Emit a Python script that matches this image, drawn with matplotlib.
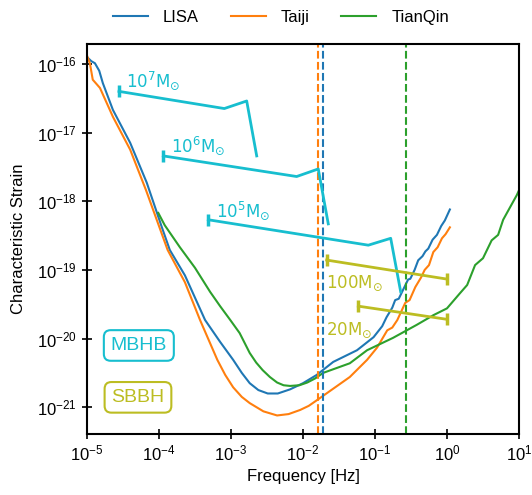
import matplotlib
matplotlib.use('Agg')
import matplotlib.pyplot as plt
import numpy as np

plt.rcParams['font.family'] = ['Liberation Sans', 'DejaVu Sans']

# --- sensitivity curves as (log10 f, log10 h_c) ---
lisa_logf = [-5.00, -4.94, -4.89, -4.83, -4.78, -4.64, -4.40, -4.17, -3.96, -3.85, -3.64, -3.36,
             -3.15, -2.97, -2.85, -2.74, -2.62, -2.49, -2.35, -2.18, -2.00, -1.81, -1.58, -1.25,
             -1.02, -0.90, -0.84, -0.76, -0.72, -0.67, -0.61, -0.54, -0.51, -0.45, -0.40, -0.34,
             -0.30, -0.26, -0.20, -0.14, -0.08, -0.03, 0.04]
lisa_logh = [-15.90, -15.96, -15.99, -16.10, -16.28, -16.67, -17.15, -17.73, -18.38, -18.71, -19.08, -19.73,
             -20.05, -20.31, -20.50, -20.65, -20.75, -20.80, -20.80, -20.74, -20.65, -20.53, -20.34, -20.17,
             -19.98, -19.82, -19.69, -19.55, -19.44, -19.42, -19.29, -19.14, -19.13, -19.00, -18.86, -18.80,
             -18.73, -18.69, -18.56, -18.49, -18.36, -18.28, -18.12]

taiji_logf = [-5.00, -4.96, -4.92, -4.82, -4.64, -4.40, -4.18, -3.88, -3.64, -3.43,
              -3.19, -3.08, -2.97, -2.85, -2.74, -2.55, -2.36, -2.20, -2.04, -1.92, -1.81, -1.58,
              -1.35, -1.11, -0.97, -0.83, -0.76, -0.69, -0.58, -0.52, -0.44, -0.36, -0.31, -0.25,
              -0.19, -0.13, -0.07, -0.02, 0.04]
taiji_logh = [-15.88, -15.99, -16.23, -16.35, -16.77, -17.25, -17.84, -18.71, -19.18, -19.73,
              -20.31, -20.53, -20.71, -20.85, -20.94, -21.06, -21.12, -21.10, -21.04, -20.98, -20.90, -20.73,
              -20.56, -20.31, -20.13, -19.88, -19.84, -19.73, -19.48, -19.44, -19.25, -19.11, -19.00, -18.93,
              -18.74, -18.67, -18.54, -18.48, -18.38]

tianqin_logf = [-4.01, -3.92, -3.71, -3.50, -3.29, -3.15, -3.01, -2.88, -2.74, -2.65, -2.56, -2.46,
                -2.36, -2.27, -2.18, -2.05, -1.94, -1.83, -1.72, -1.35, -1.11, -0.75, -0.42, -0.19,
                0.00, 0.18, 0.28, 0.39, 0.50, 0.62, 0.71, 0.78, 0.88, 0.97, 1.00]
tianqin_logh = [-18.17, -18.35, -18.67, -18.97, -19.32, -19.53, -19.73, -19.92, -20.21, -20.35, -20.46, -20.56,
                -20.64, -20.68, -20.69, -20.68, -20.64, -20.58, -20.50, -20.36, -20.17, -19.99, -19.80, -19.66,
                -19.56, -19.34, -19.22, -18.93, -18.83, -18.57, -18.49, -18.27, -18.08, -17.91, -17.84]

# vertical marker frequencies [Hz]
f_lisa_line = 0.019
f_taiji_line = 0.016
f_tianqin_line = 0.27

# --- MBHB tracks (log10 f, log10 h_c) ---
mbhb_labels = [r'$10^{7}\mathrm{M}_{\odot}$', r'$10^{6}\mathrm{M}_{\odot}$', r'$10^{5}\mathrm{M}_{\odot}$']
mbhb_logf = [[-4.556, -3.093, -2.782, -2.643],
             [-3.940, -2.088, -1.788, -1.649],
             [-3.315, -1.093, -0.782, -0.643]]
mbhb_logh = [[-16.40, -16.65, -16.54, -17.34],
             [-17.34, -17.64, -17.53, -18.33],
             [-18.27, -18.64, -18.54, -19.32]]
mbhb_text_pos = [(-4.458, -16.34), (-3.84, -17.28), (-3.21, -18.23)]

# --- SBBH tracks ---
sbbh_labels = [r'$100\mathrm{M}_{\odot}$', r'$20\mathrm{M}_{\odot}$']
sbbh_logf = [[-1.671, 0.0], [-1.232, 0.0]]
sbbh_logh = [[-18.857, -19.134], [-19.528, -19.720]]
sbbh_text_pos = [(-1.68, -19.26), (-1.68, -19.95)]

c_mbhb = '#17becf'
c_sbbh = '#bcbd22'

fig = plt.figure(figsize=(5.32, 4.95), dpi=100)
ax = fig.add_axes([87 / 532, 1 - 434 / 495, 432 / 532, 390 / 495])

def p10(a):
    return 10 ** np.asarray(a)

ax.loglog(p10(lisa_logf), p10(lisa_logh), color='tab:blue', lw=1.5, label='LISA')
ax.loglog(p10(taiji_logf), p10(taiji_logh), color='tab:orange', lw=1.5, label='Taiji')
ax.loglog(p10(tianqin_logf), p10(tianqin_logh), color='tab:green', lw=1.5, label='TianQin')

ax.axvline(f_taiji_line, color='tab:orange', ls='--', lw=1.5)
ax.axvline(f_lisa_line, color='tab:blue', ls='--', lw=1.5)
ax.axvline(f_tianqin_line, color='tab:green', ls='--', lw=1.5)

for lf, lh, lab, pos in zip(mbhb_logf, mbhb_logh, mbhb_labels, mbhb_text_pos):
    ax.plot(p10(lf), p10(lh), color=c_mbhb, lw=2)
    ax.plot(p10(lf[0]), p10(lh[0]), color=c_mbhb, marker='|', ms=9, mew=2.5)
    ax.text(p10(pos[0]), p10(pos[1]), lab, color=c_mbhb, fontsize=12,
            ha='left', va='baseline')

for lf, lh, lab, pos in zip(sbbh_logf, sbbh_logh, sbbh_labels, sbbh_text_pos):
    ax.plot(p10(lf), p10(lh), color=c_sbbh, lw=2, marker='|', ms=9, mew=2.5)
    ax.text(p10(pos[0]), p10(pos[1]), lab, color=c_sbbh, fontsize=12,
            ha='left', va='baseline')

ax.text(0.12, 0.227, 'MBHB', transform=ax.transAxes, color=c_mbhb, fontsize=14,
        ha='center', va='center',
        bbox=dict(boxstyle='round,pad=0.35', fc='white', ec=c_mbhb, lw=1.5))
ax.text(0.118, 0.094, 'SBBH', transform=ax.transAxes, color=c_sbbh, fontsize=14,
        ha='center', va='center',
        bbox=dict(boxstyle='round,pad=0.35', fc='white', ec=c_sbbh, lw=1.5))

ax.set_xlim(1e-5, 1e1)
ax.set_ylim(10 ** -21.39, 10 ** -15.71)
ax.minorticks_off()
ax.tick_params(direction='inout', length=7, width=1.2, labelsize=12)
for s in ax.spines.values():
    s.set_linewidth(1.5)
ax.set_xlabel('Frequency [Hz]', fontsize=12)
ax.set_ylabel('Characteristic Strain', fontsize=12, labelpad=8)

fig.legend(loc='upper center', bbox_to_anchor=(0.528, 1.01), ncol=3, frameon=False,
           fontsize=12, handlelength=2.1, handletextpad=0.9, columnspacing=1.9)

fig.savefig('out.png', dpi=100)
